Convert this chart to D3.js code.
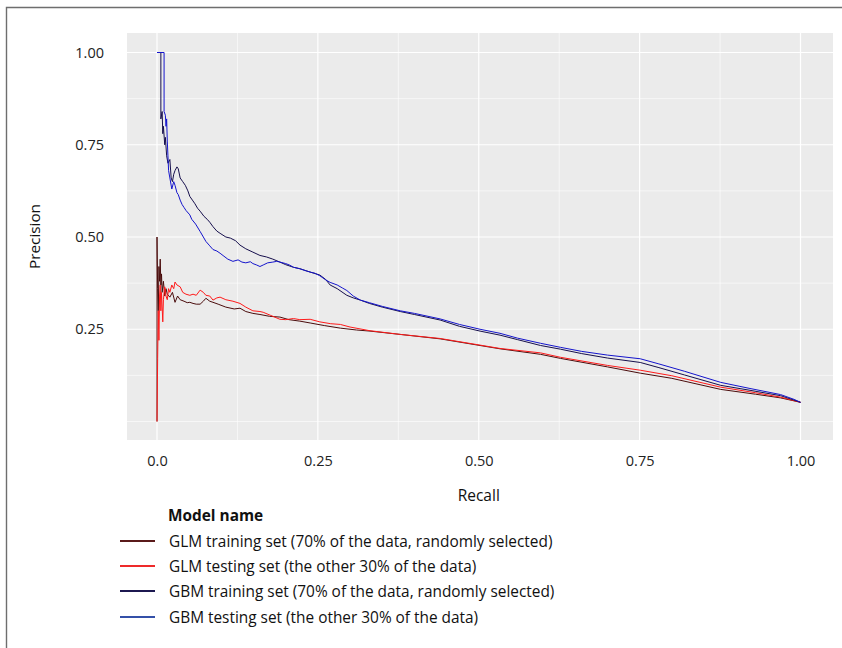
<!DOCTYPE html>
<html><head><meta charset="utf-8">
<script src="https://cdn.jsdelivr.net/npm/d3@7"></script>
<style>body{margin:0;background:#fff}svg{display:block}</style>
</head><body><svg id="c" width="842" height="648"></svg>
<script>
const seriesNames = [
  "GLM training set (70% of the data, randomly selected)",
  "GLM testing set (the other 30% of the data)",
  "GBM training set (70% of the data, randomly selected)",
  "GBM testing set (the other 30% of the data)"
];
const lineColors = ["#4a0c0c", "#ff1a1a", "#160f4c", "#1414cc"];
const keyColors = ["#5a1a1a", "#ee2a2a", "#1c1850", "#3450a8"];
const xTicks = [0, 0.25, 0.5, 0.75, 1.0];
const xTickLabels = ["0.0", "0.25", "0.50", "0.75", "1.00"];
const yTicks = [0.25, 0.5, 0.75, 1.0];
const yTickLabels = ["0.25", "0.50", "0.75", "1.00"];
const xMinor = [0.125, 0.375, 0.625, 0.875];
const yMinor = [0, 0.125, 0.375, 0.625, 0.875];

// [recall, precision]
const glmTrain = [[0,0.0],[0,0.5],[0.001,0.36],[0.002,0.30],[0.003,0.42],[0.004,0.38],[0.005,0.44],[0.006,0.37],[0.007,0.40],[0.008,0.35],[0.010,0.38],[0.012,0.34],[0.014,0.36],[0.016,0.345],[0.020,0.337],[0.024,0.35],[0.028,0.323],[0.032,0.34],[0.036,0.33],[0.042,0.326],[0.047,0.322],[0.051,0.323],[0.056,0.32],[0.061,0.318],[0.067,0.318],[0.072,0.326],[0.076,0.334],[0.082,0.326],[0.087,0.323],[0.095,0.318],[0.107,0.31],[0.12,0.305],[0.129,0.307],[0.138,0.298],[0.149,0.293],[0.160,0.29],[0.175,0.285],[0.191,0.283],[0.205,0.276],[0.222,0.272],[0.238,0.267],[0.26,0.26],[0.285,0.253],[0.31,0.248],[0.331,0.245],[0.378,0.236],[0.44,0.224],[0.502,0.206],[0.533,0.197],[0.596,0.182],[0.627,0.171],[0.70,0.148],[0.751,0.131],[0.80,0.117],[0.876,0.087],[0.93,0.074],[0.969,0.064],[1.0,0.052]];
const glmTest = [[0,0.0],[0.001,0.17],[0.002,0.30],[0.003,0.22],[0.004,0.34],[0.005,0.37],[0.006,0.30],[0.007,0.35],[0.009,0.27],[0.010,0.33],[0.012,0.365],[0.014,0.34],[0.016,0.33],[0.018,0.36],[0.020,0.35],[0.023,0.37],[0.026,0.36],[0.028,0.378],[0.031,0.37],[0.036,0.365],[0.040,0.35],[0.045,0.345],[0.051,0.342],[0.056,0.345],[0.061,0.342],[0.067,0.356],[0.072,0.35],[0.076,0.342],[0.082,0.34],[0.087,0.329],[0.093,0.335],[0.098,0.337],[0.107,0.33],[0.118,0.326],[0.129,0.32],[0.138,0.31],[0.149,0.30],[0.160,0.298],[0.165,0.296],[0.176,0.288],[0.191,0.277],[0.200,0.276],[0.212,0.279],[0.222,0.276],[0.238,0.277],[0.253,0.27],[0.27,0.265],[0.285,0.263],[0.30,0.256],[0.331,0.246],[0.378,0.236],[0.44,0.225],[0.502,0.207],[0.533,0.198],[0.596,0.186],[0.627,0.174],[0.70,0.152],[0.751,0.139],[0.80,0.124],[0.876,0.093],[0.93,0.078],[0.969,0.066],[1.0,0.052]];
const gbmTrain = [[0,1.0],[0.006,1.0],[0.006,0.82],[0.008,0.84],[0.009,0.78],[0.010,0.80],[0.012,0.75],[0.013,0.77],[0.015,0.72],[0.017,0.70],[0.020,0.71],[0.022,0.66],[0.024,0.65],[0.026,0.67],[0.028,0.68],[0.031,0.69],[0.033,0.685],[0.036,0.66],[0.040,0.65],[0.044,0.64],[0.048,0.625],[0.051,0.61],[0.055,0.60],[0.059,0.59],[0.063,0.578],[0.067,0.57],[0.073,0.556],[0.078,0.548],[0.082,0.54],[0.087,0.528],[0.093,0.516],[0.098,0.51],[0.107,0.50],[0.114,0.497],[0.122,0.49],[0.129,0.478],[0.138,0.468],[0.149,0.459],[0.160,0.45],[0.170,0.446],[0.180,0.44],[0.191,0.432],[0.200,0.425],[0.212,0.418],[0.222,0.414],[0.238,0.405],[0.253,0.397],[0.262,0.385],[0.269,0.37],[0.28,0.36],[0.295,0.342],[0.305,0.335],[0.316,0.329],[0.33,0.32],[0.35,0.31],[0.378,0.298],[0.40,0.29],[0.44,0.275],[0.47,0.258],[0.502,0.245],[0.533,0.234],[0.56,0.222],[0.596,0.206],[0.627,0.196],[0.66,0.184],[0.70,0.172],[0.751,0.16],[0.78,0.146],[0.82,0.126],[0.876,0.098],[0.92,0.085],[0.969,0.07],[0.99,0.058],[1.0,0.052]];
const gbmTest = [[0,1.0],[0.011,1.0],[0.011,0.84],[0.013,0.83],[0.014,0.80],[0.015,0.82],[0.016,0.76],[0.017,0.72],[0.018,0.68],[0.020,0.66],[0.023,0.63],[0.026,0.65],[0.028,0.64],[0.031,0.62],[0.033,0.615],[0.036,0.60],[0.039,0.588],[0.042,0.58],[0.045,0.572],[0.051,0.56],[0.054,0.548],[0.060,0.535],[0.067,0.515],[0.072,0.50],[0.076,0.488],[0.082,0.476],[0.087,0.466],[0.093,0.462],[0.098,0.456],[0.104,0.448],[0.110,0.44],[0.118,0.434],[0.126,0.438],[0.132,0.432],[0.138,0.43],[0.145,0.433],[0.149,0.428],[0.155,0.424],[0.160,0.42],[0.166,0.425],[0.172,0.43],[0.180,0.432],[0.186,0.434],[0.191,0.432],[0.200,0.428],[0.206,0.424],[0.212,0.418],[0.222,0.414],[0.232,0.408],[0.240,0.404],[0.245,0.402],[0.253,0.395],[0.262,0.384],[0.269,0.377],[0.280,0.37],[0.288,0.362],[0.295,0.355],[0.305,0.34],[0.316,0.329],[0.33,0.322],[0.35,0.312],[0.378,0.300],[0.40,0.293],[0.44,0.278],[0.47,0.263],[0.502,0.25],[0.533,0.239],[0.56,0.226],[0.596,0.212],[0.627,0.201],[0.66,0.19],[0.70,0.18],[0.751,0.17],[0.78,0.156],[0.82,0.136],[0.876,0.106],[0.92,0.09],[0.969,0.073],[0.99,0.06],[1.0,0.052]];
const seriesData = [glmTrain, glmTest, gbmTrain, gbmTest];

const svg = d3.select("#c");
const font = "'Open Sans', sans-serif";
const x = d3.scaleLinear().domain([0, 1]).range([157, 800.5]);
const y = d3.scaleLinear().domain([0, 1]).range([421.5, 52.5]);
const panel = {x0: 127, x1: 833, y0: 33, y1: 440};

// outer frame
svg.append("path").attr("d", `M6.5,648 V7.5 H842`).attr("fill", "none")
  .attr("stroke", "#6e6e6e").attr("stroke-width", 1.4);

svg.append("rect").attr("x", panel.x0).attr("y", panel.y0)
  .attr("width", panel.x1 - panel.x0).attr("height", panel.y1 - panel.y0).attr("fill", "#ebebeb");

const g = svg.append("g");
g.selectAll(".xmin").data(xMinor).join("line")
  .attr("x1", d => x(d)).attr("x2", d => x(d)).attr("y1", panel.y0).attr("y2", panel.y1)
  .attr("stroke", "#fff").attr("stroke-width", 0.6);
g.selectAll(".ymin").data(yMinor).join("line")
  .attr("y1", d => y(d)).attr("y2", d => y(d)).attr("x1", panel.x0).attr("x2", panel.x1)
  .attr("stroke", "#fff").attr("stroke-width", 0.6);
g.selectAll(".xmaj").data(xTicks).join("line")
  .attr("x1", d => x(d)).attr("x2", d => x(d)).attr("y1", panel.y0).attr("y2", panel.y1)
  .attr("stroke", "#fff").attr("stroke-width", 1.2);
g.selectAll(".ymaj").data(yTicks).join("line")
  .attr("y1", d => y(d)).attr("y2", d => y(d)).attr("x1", panel.x0).attr("x2", panel.x1)
  .attr("stroke", "#fff").attr("stroke-width", 1.2);

const line = d3.line().x(d => x(d[0])).y(d => y(d[1]));
seriesData.forEach((s, i) => {
  svg.append("path").datum(s).attr("d", line).attr("fill", "none")
    .attr("stroke", lineColors[i]).attr("stroke-width", 1).attr("stroke-linejoin", "round");
});

// axes
const xAxis = d3.axisBottom(x).tickValues(xTicks).tickFormat((d, i) => xTickLabels[i]).tickSize(0).tickPadding(16);
const xg = svg.append("g").attr("transform", `translate(0,${panel.y1})`).call(xAxis);
xg.select(".domain").remove();
xg.selectAll("text").attr("font-family", font).attr("font-size", 14.5).attr("fill", "#222");

const yAxis = d3.axisLeft(y).tickValues(yTicks).tickFormat((d, i) => yTickLabels[i]).tickSize(0).tickPadding(23);
const yg = svg.append("g").attr("transform", `translate(${panel.x0},0)`).call(yAxis);
yg.select(".domain").remove();
yg.selectAll("text").attr("font-family", font).attr("font-size", 14.5).attr("fill", "#222");

svg.append("text").attr("x", (x(0) + x(1)) / 2).attr("y", 501).attr("text-anchor", "middle")
  .attr("font-family", font).attr("font-size", 15.5).attr("fill", "#111").text("Recall");
svg.append("text").attr("transform", `translate(40,${(panel.y0 + panel.y1) / 2}) rotate(-90)`)
  .attr("text-anchor", "middle").attr("font-family", font).attr("font-size", 15.3).attr("fill", "#111").text("Precision");

// legend
const lg = svg.append("g");
lg.append("text").attr("x", 168).attr("y", 520.5).attr("font-family", font).attr("font-size", 15.4)
  .attr("font-weight", "bold").attr("fill", "#111").text("Model name");
const rowY = [541, 566, 591, 617];
seriesNames.forEach((n, i) => {
  lg.append("line").attr("x1", 120).attr("x2", 155).attr("y1", rowY[i]).attr("y2", rowY[i])
    .attr("stroke", keyColors[i]).attr("stroke-width", 2.2);
  lg.append("text").attr("x", 169).attr("y", rowY[i] + 5.5).attr("font-family", font).attr("font-size", 15.4)
    .attr("fill", "#111").text(n);
});
</script></body></html>
